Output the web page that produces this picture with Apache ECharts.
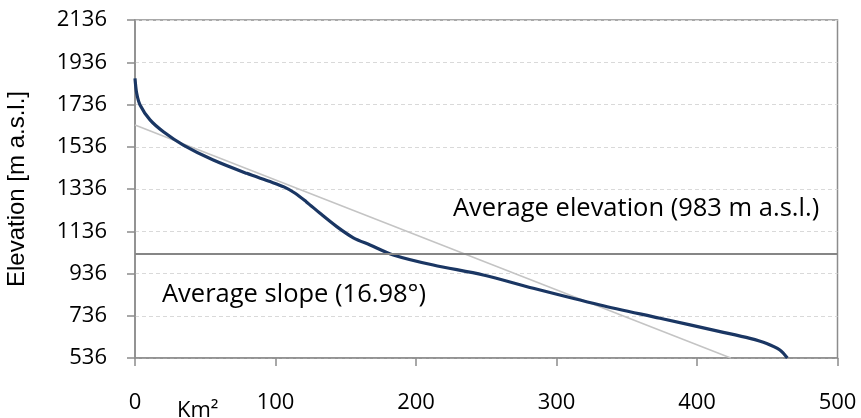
<!DOCTYPE html>
<html>
<head>
<meta charset="utf-8">
<script src="https://cdn.jsdelivr.net/npm/echarts@6/dist/echarts.min.js"></script>
<style>
html,body{margin:0;padding:0;background:#fff;}
#chart{width:861px;height:418px;}
</style>
</head>
<body>
<div id="chart"></div>
<script>
// Hypsometric curve: cumulative area (km²) vs elevation (m a.s.l.)
const areaKm = [0, 1.2, 3.6, 10.7, 20.2, 34.4, 55.7, 79.5, 96.1, 106, 114, 122, 131.7, 143.6, 155.4, 167.3, 183.8, 212.3, 247.9, 283.5, 331, 373.7, 416.4, 437.7, 449.6, 459, 464.3];
const elevation = [1860, 1789, 1734, 1663, 1607, 1544, 1473, 1410, 1371, 1346, 1316, 1275, 1221, 1158, 1105, 1071, 1024, 976, 929, 866, 787, 724, 661, 629, 605, 574, 536];
// Average slope line
const slopeX = [0, 424];
const slopeY = [1639, 536];
// Average elevation line (as drawn)
const avgElevationLine = 1030;
// Axis definition
const yMin = 536, yMax = 2136, yStep = 200;
const xMin = 0, xMax = 500, xStep = 100;
const yTitle = 'Elevation [m a.s.l.]';
const xTitle = 'Km²';
const avgElevText = 'Average elevation (983 m a.s.l.)';
const avgSlopeText = 'Average slope (16.98°)';

const FONT = 'Open Sans';
const shift = v => v - yMin;

const chart = echarts.init(document.getElementById('chart'), null, {renderer: 'canvas'});
chart.setOption({
  animation: false,
  backgroundColor: '#ffffff',
  grid: {left: 135, right: 23.5, top: 20, bottom: 60, containLabel: false, outerBoundsMode: 'none',
         show: true, borderColor: '#8c8c8c', borderWidth: 1.5, backgroundColor: 'transparent'},
  xAxis: {
    type: 'value', min: xMin, max: xMax, interval: xStep,
    axisLine: {show: true, lineStyle: {color: '#8c8c8c', width: 1.5}},
    axisTick: {show: true, length: 8, lineStyle: {color: '#8c8c8c', width: 1.5}},
    splitLine: {show: false},
    axisLabel: {fontFamily: FONT, fontSize: 22, color: '#000', margin: 34}
  },
  yAxis: {
    type: 'value', min: 0, max: yMax - yMin, interval: yStep,
    name: yTitle, nameLocation: 'middle', nameRotate: 90, nameGap: 106,
    nameTextStyle: {fontFamily: 'Liberation Sans', fontSize: 24, color: '#000'},
    axisLine: {show: true, lineStyle: {color: '#8c8c8c', width: 1.5}},
    axisTick: {show: true, length: 8, lineStyle: {color: '#8c8c8c', width: 1.5}},
    splitLine: {show: true, lineStyle: {color: '#d9d9d9', width: 1, type: [4, 3]}},
    axisLabel: {fontFamily: FONT, fontSize: 22, color: '#000', margin: 28, formatter: v => String(v + yMin)}
  },
  series: [
    {
      type: 'line', name: 'slope', symbol: 'none', silent: true,
      data: slopeX.map((x, i) => [x, shift(slopeY[i])]),
      lineStyle: {color: '#c4c4c4', width: 1.5}, z: 2,
      markLine: {
        silent: true, symbol: 'none', label: {show: false},
        lineStyle: {color: '#868686', width: 2, type: 'solid'},
        data: [{yAxis: shift(avgElevationLine)}]
      }
    },
    {
      type: 'line', name: 'hypsometric', symbol: 'none', smooth: 0.3, silent: true,
      data: areaKm.map((x, i) => [x, shift(elevation[i])]),
      lineStyle: {color: '#1a3663', width: 3.2}, z: 3
    }
  ],
  graphic: [
    {type: 'text', left: 453, top: 196, style: {text: avgElevText, font: '25.5px "Open Sans"', fill: '#000'}},
    {type: 'text', left: 162, top: 282, style: {text: avgSlopeText, font: '25.5px "Open Sans"', fill: '#000'}},
    {type: 'text', left: 177, top: 400, style: {text: xTitle, font: '22px "Open Sans"', fill: '#000'}}
  ]
});
</script>
</body>
</html>
